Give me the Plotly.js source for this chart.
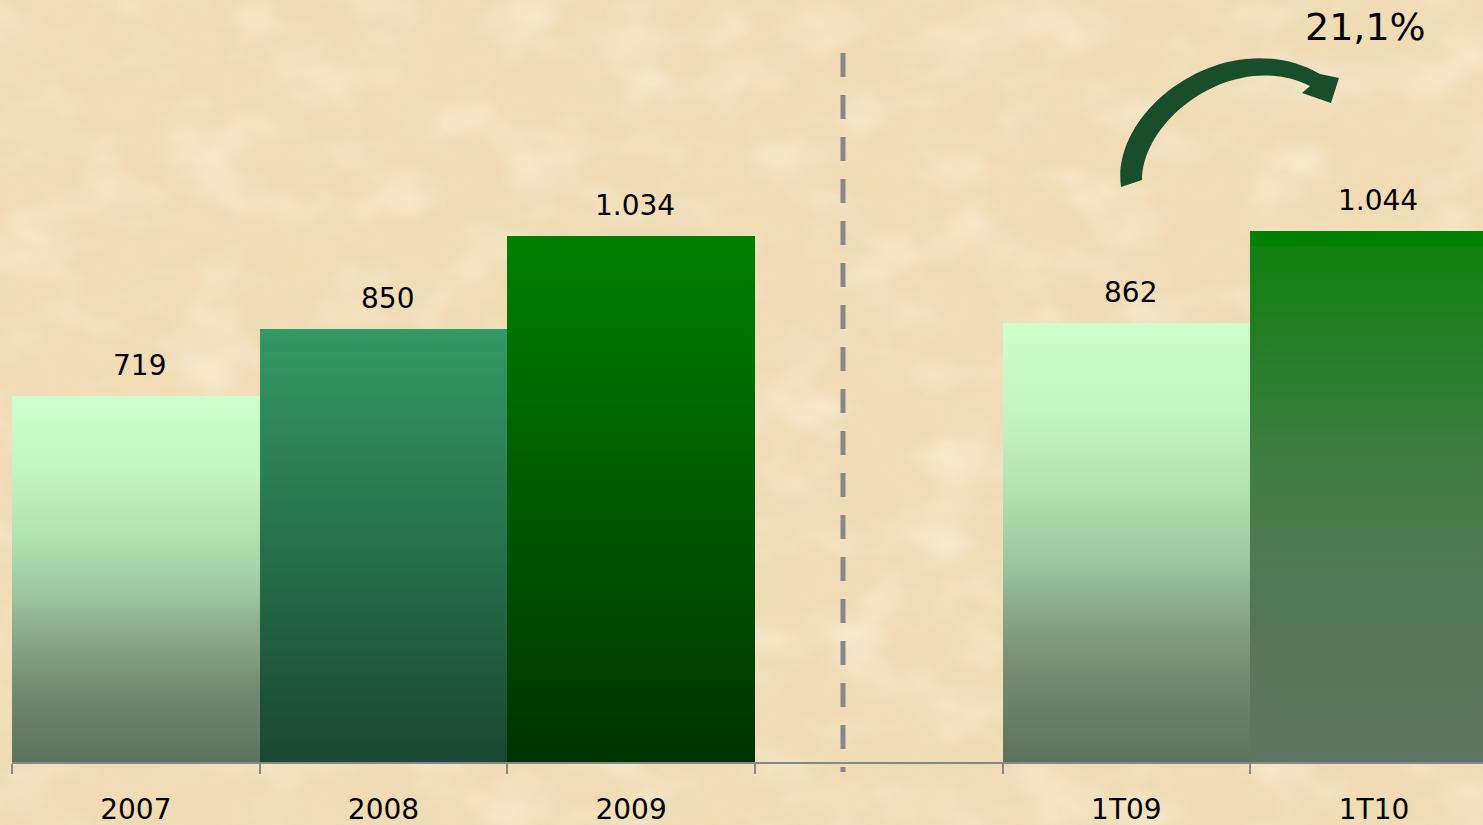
<!DOCTYPE html>
<html>
<head>
<meta charset="utf-8">
<script src="https://cdn.plot.ly/plotly-3.0.1.min.js"></script>
<style>
html,body{margin:0;padding:0;width:1483px;height:825px;overflow:hidden;background:#F0DCB4;}
#bg{position:absolute;left:0;top:0;width:1483px;height:825px;z-index:0;}
#chart{position:absolute;left:0;top:0;width:1483px;height:825px;z-index:1;}
</style>
</head>
<body>
<svg id="bg" xmlns="http://www.w3.org/2000/svg" width="1483" height="825">
  <defs>
    <filter id="darkN" x="0" y="0" width="100%" height="100%">
      <feTurbulence type="fractalNoise" baseFrequency="0.018 0.025" numOctaves="4" seed="7"/>
      <feColorMatrix type="matrix" values="0 0 0 0 0.85  0 0 0 0 0.72  0 0 0 0 0.50  2.0 0 0 0 -0.95"/>
    </filter>
    <filter id="lightN" x="0" y="0" width="100%" height="100%">
      <feTurbulence type="fractalNoise" baseFrequency="0.012 0.018" numOctaves="3" seed="21"/>
      <feColorMatrix type="matrix" values="0 0 0 0 0.98  0 0 0 0 0.93  0 0 0 0 0.82  2.0 0 0 0 -0.9"/>
    </filter>
  </defs>
  <rect width="1483" height="825" fill="#F0DCB4"/>
  <rect width="1483" height="825" filter="url(#lightN)" opacity="0.55"/>
  <rect width="1483" height="825" filter="url(#darkN)" opacity="0.7"/>
</svg>
<div id="chart"></div>
<script>
// ---- data ----
var categories = ['2007', '2008', '2009', ' ', '1T09', '1T10'];
var values     = [719, 850, 1034, null, 862, 1044];
var growthLabel = '21,1%';

// ---- styles ----
var barGradients = [
  [[0,'#CCFFCC'],[0.2,'#C4F5C4'],[0.4,'#B0DFB0'],[0.55,'#9CC49E'],[0.65,'#8AA98C'],[0.8,'#728B74'],[1,'#5B725D']],
  [[0,'#339966'],[0.5,'#27704C'],[1,'#1A4731']],
  [[0,'#008000'],[0.5,'#005A00'],[1,'#003300']],
  null,
  [[0,'#CCFFCC'],[0.2,'#C4F5C4'],[0.4,'#B0DFB0'],[0.55,'#9CC49E'],[0.65,'#8AA98C'],[0.8,'#728B74'],[1,'#5B725D']],
  [[0,'#008000'],[0.028,'#008000'],[0.03,'#108010'],[0.2,'#237E25'],[0.4,'#3C7E3F'],[0.6,'#4E7A52'],[0.8,'#58765B'],[1,'#5D7561']]
];
var flatColors = ['#99C09A','#27704C','#005A00','#000000','#99C09A','#3C7E3F'];

var W = 1483, H = 825, ML = 12, MB = 63;
var plotW = W - ML, plotH = H - MB;
function px(x){ return (x - ML) / plotW; }
function py(y){ return (plotH - y) / plotH; }
function pt(x,y){ return px(x).toFixed(5) + ',' + py(y).toFixed(5); }

var arrowPath =
  'M ' + pt(1121,187) +
  ' C ' + pt(1110,108) + ' ' + pt(1228,22) + ' ' + pt(1320,74) +
  ' L ' + pt(1339,78) +
  ' L ' + pt(1331,103) +
  ' L ' + pt(1302,93) +
  ' L ' + pt(1310,86) +
  ' C ' + pt(1236,49) + ' ' + pt(1143,116) + ' ' + pt(1142,180) +
  ' Z';

function fmt(v){
  return String(v).replace(/\B(?=(\d{3})+(?!\d))/g, '.');
}

var annotations = [];
for (var i = 0; i < categories.length; i++) {
  if (values[i] == null) continue;
  annotations.push({
    x: i, y: values[i], xref: 'x', yref: 'y',
    text: fmt(values[i]), showarrow: false,
    yanchor: 'bottom', xanchor: 'center', yshift: 12, xshift: 4,
    font: {family: 'DejaVu Sans, Verdana, sans-serif', size: 28, color: '#000'}
  });
}
annotations.push({
  x: px(1365), y: py(27), xref: 'paper', yref: 'paper',
  text: growthLabel, showarrow: false, xanchor: 'center', yanchor: 'middle',
  font: {family: 'DejaVu Sans, Verdana, sans-serif', size: 38, color: '#000'}
});

var trace = {
  type: 'bar',
  x: categories,
  y: values,
  marker: {color: flatColors, line: {width: 0}},
  hoverinfo: 'skip'
};

var layout = {
  width: W, height: H,
  margin: {l: ML, r: 0, t: 0, b: MB, pad: 0},
  paper_bgcolor: 'rgba(0,0,0,0)',
  plot_bgcolor: 'rgba(0,0,0,0)',
  bargap: 0,
  showlegend: false,
  xaxis: {
    type: 'category',
    range: [-0.5, 5.44],
    showline: true, linecolor: '#888888', linewidth: 2,
    ticks: 'outside', tickson: 'boundaries', ticklen: 10, tickwidth: 2, tickcolor: '#888888',
    ticklabelstandoff: 21,
    tickfont: {family: 'DejaVu Sans, Verdana, sans-serif', size: 28, color: '#000'},
    showgrid: false, zeroline: false, fixedrange: true
  },
  yaxis: {range: [0, 1497], visible: false, showgrid: false, zeroline: false, fixedrange: true},
  annotations: annotations,
  shapes: [
    {type: 'line', xref: 'paper', yref: 'paper',
     x0: px(843), x1: px(843), y0: py(53), y1: py(772),
     line: {color: '#888888', width: 5, dash: '24px,18px'}},
    {type: 'path', xref: 'paper', yref: 'paper', path: arrowPath,
     fillcolor: '#1A4D2C', line: {width: 0}}
  ]
};

function applyGradients(gd){
  var ns = 'http://www.w3.org/2000/svg';
  var svg = gd.querySelector('svg.main-svg');
  if (!svg) return;
  var defs = svg.querySelector('defs');
  if (!defs) { defs = document.createElementNS(ns, 'defs'); svg.insertBefore(defs, svg.firstChild); }
  barGradients.forEach(function(stops, i){
    if (!stops) return;
    var id = 'bargrad' + i;
    if (document.getElementById(id)) return;
    var lg = document.createElementNS(ns, 'linearGradient');
    lg.setAttribute('id', id);
    lg.setAttribute('x1', '0'); lg.setAttribute('y1', '0');
    lg.setAttribute('x2', '0'); lg.setAttribute('y2', '1');
    stops.forEach(function(s){
      var st = document.createElementNS(ns, 'stop');
      st.setAttribute('offset', s[0]);
      st.setAttribute('stop-color', s[1]);
      lg.appendChild(st);
    });
    defs.appendChild(lg);
  });
  var pts = gd.querySelectorAll('.barlayer .point');
  pts.forEach(function(p, k){
    var d = p.__data__;
    var idx = (d && d.i != null) ? d.i : k;
    var path = p.querySelector('path');
    if (path && barGradients[idx]) path.style.fill = 'url(#bargrad' + idx + ')';
  });
}

var gd = document.getElementById('chart');
Plotly.newPlot(gd, [trace], layout, {displayModeBar: false, staticPlot: true}).then(function(){
  applyGradients(gd);
  gd.on('plotly_afterplot', function(){ applyGradients(gd); });
});
</script>
</body>
</html>
